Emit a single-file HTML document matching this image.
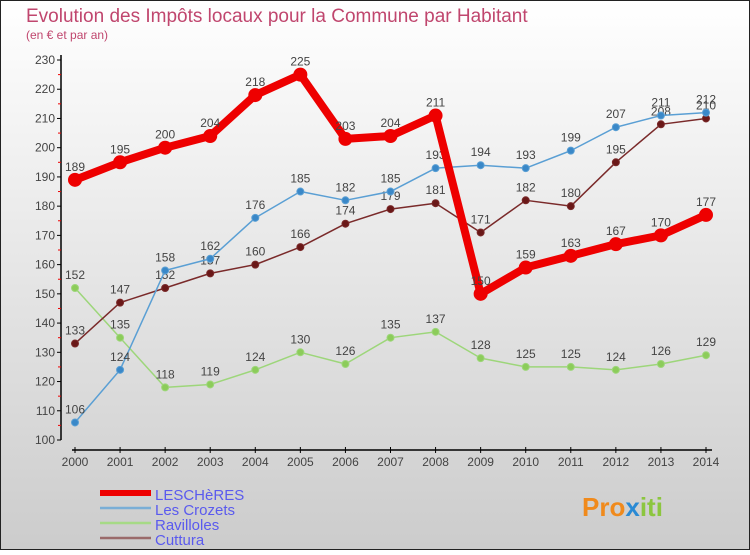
<!DOCTYPE html>
<html><head><meta charset="utf-8"><style>
html,body{margin:0;padding:0}
body{width:750px;height:550px;overflow:hidden;font-family:"Liberation Sans","DejaVu Sans",sans-serif}
</style></head><body>
<svg id="chart" width="750" height="550" xmlns="http://www.w3.org/2000/svg">
<defs><linearGradient id="bg" x1="0" y1="0" x2="0" y2="1"><stop offset="0" stop-color="#ffffff"/><stop offset="1" stop-color="#cccccc"/></linearGradient></defs>
<rect x="0.5" y="0.5" width="749" height="549" fill="url(#bg)" stroke="#222" stroke-width="1"/>
<text x="26" y="22" font-size="19" fill="#c0466e">Evolution des Impôts locaux pour la Commune par Habitant</text>
<text x="26" y="39" font-size="12" fill="#c0466e">(en € et par an)</text>
<g id="axes"></g><g id="series"></g><g id="legend"></g>
<text x="582" y="516" font-size="26" font-weight="bold" fill="#f08a1c">Pro<tspan fill="#2a8ad4">x</tspan><tspan fill="#8cc63f">iti</tspan></text>
</svg>
<script>
const years=[2000,2001,2002,2003,2004,2005,2006,2007,2008,2009,2010,2011,2012,2013,2014];
const lescheres=[189,195,200,204,218,225,203,204,211,150,159,163,167,170,177];
const crozets=[106,124,158,162,176,185,182,185,193,194,193,199,207,211,212];
const ravilloles=[152,135,118,119,124,130,126,135,137,128,125,125,124,126,129];
const cuttura=[133,147,152,157,160,166,174,179,181,171,182,180,195,208,210];
const yTicks=[100,110,120,130,140,150,160,170,180,190,200,210,220,230];
const NS="http://www.w3.org/2000/svg";
const xs=i=>75+i*(706-75)/(years.length-1);
const ys=v=>440-(v-100)*380/130;
function mk(tag,attrs,parent){const e=document.createElementNS(NS,tag);for(const k in attrs)e.setAttribute(k,attrs[k]);parent.appendChild(e);return e;}
const ax=document.getElementById('axes');
let l=mk('line',{x1:61,y1:55,x2:61,y2:440,stroke:'#000','stroke-width':1.5},ax);


l=mk('line',{x1:72,y1:450,x2:712,y2:450,stroke:'#000','stroke-width':1.5},ax);


yTicks.forEach((t,i)=>{
 const y=ys(t);
 mk('line',{x1:57,y1:y,x2:61,y2:y,stroke:'#000'},ax);
 const tx=mk('text',{x:55,y:y+4,'font-size':12,fill:'#444','text-anchor':'end'},ax);tx.textContent=t;
 
 
 if(i<yTicks.length-1){mk('line',{x1:58,y1:ys(t+5),x2:61,y2:ys(t+5),stroke:'#e00'},ax);}
});
years.forEach((yr,i)=>{
 const x=xs(i);
 mk('line',{x1:x,y1:447,x2:x,y2:453,stroke:'#000'},ax);
 const tx=mk('text',{x:x,y:466,'font-size':12,fill:'#444','text-anchor':'middle'},ax);tx.textContent=yr;
 
 
});
const sg=document.getElementById('series');
function draw(vals,color,w,r,name,dot){
 const g=mk('g',{},sg);
 
 
 mk('polyline',{points:vals.map((v,i)=>xs(i)+','+ys(v)).join(' '),fill:'none',stroke:color,'stroke-width':w,'stroke-linejoin':'round'},g);
 vals.forEach((v,i)=>{
  const c=mk('circle',{cx:xs(i),cy:ys(v),r:r,fill:dot,stroke:color,'stroke-width':1},g);
  
  
  const t=mk('text',{x:xs(i),y:ys(v)-9,'font-size':12,fill:'#444','text-anchor':'middle'},g);t.textContent=v;
  
  
 });
}
draw(ravilloles,'#9dd67a',1.5,3.5,'series-ravilloles','#8ccc5a');
draw(cuttura,'#7a2a2a',1.5,3.5,'series-cuttura','#6a1818');
draw(crozets,'#5a9fd4',1.5,3.5,'series-les-crozets','#3a88c8');
draw(lescheres,'#ee0000',8,6.5,'series-lescheres','#ee0000');
const lg=document.getElementById('legend');
[['LESCHèRES','#ee0000',6],['Les Crozets','#7aaed6',2.5],['Ravilloles','#a6da86',2.5],['Cuttura','#9a6a6a',2.5]].forEach((d,i)=>{
 const y=493+i*15;
 const g=mk('g',{},lg);
 
 
 mk('line',{x1:100,y1:y,x2:151,y2:y,stroke:d[1],'stroke-width':d[2]},g);
 const t=mk('text',{x:155,y:y+7,'font-size':15,fill:'#5a5aee'},g);t.textContent=d[0];
});
</script>
</body></html>
